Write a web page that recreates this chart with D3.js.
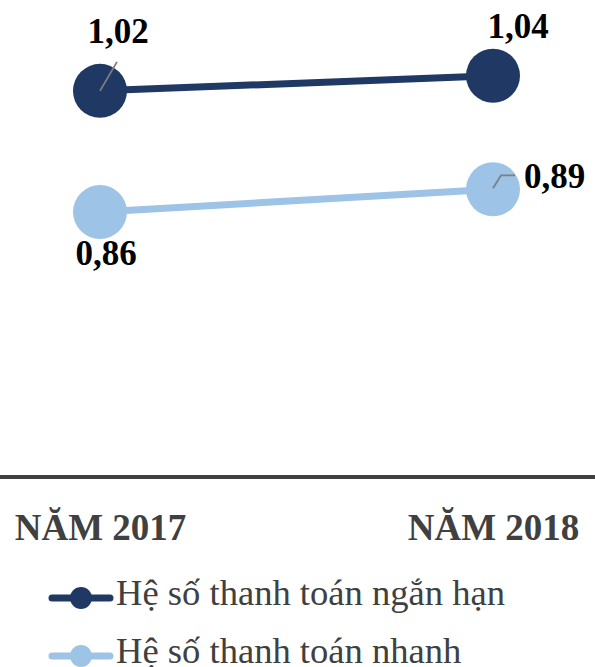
<!DOCTYPE html>
<html>
<head>
<meta charset="utf-8">
<script src="https://cdn.jsdelivr.net/npm/d3@7"></script>
<style>
  html, body { margin: 0; padding: 0; background: #fff; }
  svg { display: block; }
</style>
</head>
<body>
<svg id="chart" width="595" height="667"></svg>
<script>
// Years on the category axis
const categories = ["NĂM 2017", "NĂM 2018"];
// Series names as shown in the legend
const seriesNames = ["Hệ số thanh toán ngắn hạn", "Hệ số thanh toán nhanh"];
// Ratio values per year
const shortTermRatio = [1.02, 1.04];
const quickRatio = [0.86, 0.89];
const seriesColors = ["#203864", "#9dc3e6"];

const fmt = v => d3.format(".2f")(v).replace(".", ",");
const serif = "'Liberation Serif', 'DejaVu Serif', serif";

const svg = d3.select("#chart");
const W = 595;

const x = d3.scalePoint().domain(categories).range([100, 493]);
const y = d3.scaleLinear().domain([0.51, 1.14]).range([477, 0]);

const series = [
  { name: seriesNames[0], values: shortTermRatio, color: seriesColors[0] },
  { name: seriesNames[1], values: quickRatio, color: seriesColors[1] }
];

const line = d3.line()
  .x((d, i) => x(categories[i]))
  .y(d => y(d));

// Category axis: thick baseline, bold year labels underneath
const axis = d3.axisBottom(x).tickSize(0).tickPadding(0);
const gAxis = svg.append("g").attr("transform", "translate(0,477)").call(axis);
gAxis.select(".domain").remove();
gAxis.append("line")
  .attr("x1", 0).attr("x2", W).attr("y1", 0).attr("y2", 0)
  .attr("stroke", "#404040").attr("stroke-width", 4);
gAxis.selectAll(".tick text")
  .attr("dy", 0)
  .attr("y", 63)
  .attr("fill", "#404040")
  .style("font-family", serif)
  .style("font-weight", "bold")
  .style("font-size", "37px");

// Lines and markers
series.forEach(s => {
  svg.append("path")
    .datum(s.values)
    .attr("d", line)
    .attr("fill", "none")
    .attr("stroke", s.color)
    .attr("stroke-width", 7);
  svg.selectAll(null)
    .data(s.values)
    .enter().append("circle")
    .attr("cx", (d, i) => x(categories[i]))
    .attr("cy", d => y(d))
    .attr("r", 27)
    .attr("fill", s.color);
});

// Leader lines for labels placed away from their points
const leader = "#7f7f7f";
{
  const px = x(categories[0]), py = y(shortTermRatio[0]);
  svg.append("line")
    .attr("x1", px).attr("y1", py)
    .attr("x2", px + 17).attr("y2", py - 29)
    .attr("stroke", leader).attr("stroke-width", 1.8);
}
{
  const px = x(categories[1]), py = y(quickRatio[1]);
  svg.append("path")
    .attr("d", `M${px},${py - 1} L${px + 8},${py - 14} L${px + 22},${py - 14}`)
    .attr("fill", "none")
    .attr("stroke", leader).attr("stroke-width", 1.8);
}

// Value labels
const labels = [
  { v: shortTermRatio[0], i: 0, dx: 18, dy: -48, anchor: "middle" },
  { v: shortTermRatio[1], i: 1, dx: 25, dy: -38, anchor: "middle" },
  { v: quickRatio[0], i: 0, dx: 6, dy: 53, anchor: "middle" },
  { v: quickRatio[1], i: 1, dx: 31, dy: -1, anchor: "start" }
];
svg.selectAll(null)
  .data(labels)
  .enter().append("text")
  .attr("x", d => x(categories[d.i]) + d.dx)
  .attr("y", d => y(d.v) + d.dy)
  .attr("text-anchor", d => d.anchor)
  .attr("fill", "#000")
  .style("font-family", serif)
  .style("font-weight", "bold")
  .style("font-size", "35px")
  .text(d => fmt(d.v));

// Legend
const legend = svg.append("g");
series.forEach((s, k) => {
  const ly = 598 + k * 58;
  const g = legend.append("g").attr("transform", `translate(0,${ly})`);
  g.append("line")
    .attr("x1", 52).attr("x2", 110).attr("y1", 0).attr("y2", 0)
    .attr("stroke", s.color).attr("stroke-width", 7)
    .attr("stroke-linecap", "round");
  g.append("circle").attr("cx", 81).attr("cy", 0).attr("r", 11).attr("fill", s.color);
  g.append("text")
    .attr("x", 116).attr("y", 7)
    .attr("fill", "#404040")
    .style("font-family", serif)
    .style("font-size", "36.6px")
    .text(s.name);
});
</script>
</body>
</html>
